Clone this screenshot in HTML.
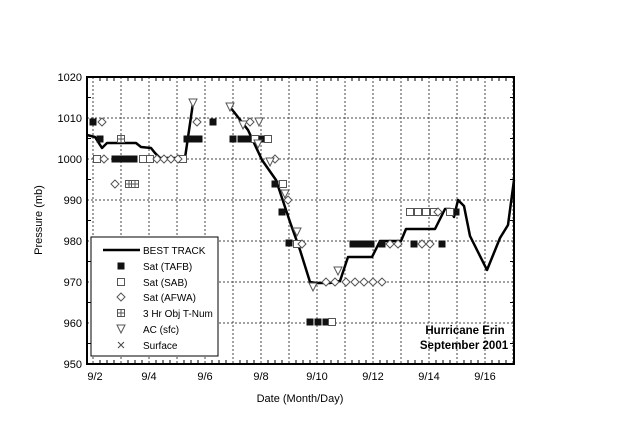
<!DOCTYPE html>
<html><head><meta charset="utf-8"><style>
html,body{margin:0;padding:0;background:#fff;}
svg{display:block;font-family:"Liberation Sans",Arial,sans-serif;}
</style></head><body>
<svg width="640" height="425" viewBox="0 0 640 425" xmlns="http://www.w3.org/2000/svg">
<defs>
<symbol id="sq" viewBox="-4 -4 8 8" overflow="visible"><rect x="-3.5" y="-3.5" width="7" height="7" fill="#111"/></symbol>
<symbol id="os" viewBox="-4 -4 8 8" overflow="visible"><rect x="-3.5" y="-3.5" width="7" height="7" fill="#fff" stroke="#555" stroke-width="1"/></symbol>
<symbol id="ob" viewBox="-4 -4 8 8" overflow="visible"><rect x="-3.5" y="-3.5" width="7" height="7" fill="#fff" stroke="#555" stroke-width="1"/><path d="M0,-3.5V3.5M-3.5,0H3.5" stroke="#555" stroke-width="1"/></symbol>
<symbol id="di" viewBox="-4 -4 8 8" overflow="visible"><path d="M0,-4 L4,0 L0,4 L-4,0Z" fill="#fff" stroke="#555" stroke-width="1"/></symbol>
<symbol id="tr" viewBox="-4 -4 8 8" overflow="visible"><path d="M-4,-4 L4,-4 L0,4Z" fill="#fff" stroke="#555" stroke-width="1"/></symbol>
</defs>
<g stroke="#444" stroke-width="1" stroke-dasharray="2,2">
<line x1="93" y1="77" x2="93" y2="364"/><line x1="121" y1="77" x2="121" y2="364"/><line x1="149" y1="77" x2="149" y2="364"/><line x1="177" y1="77" x2="177" y2="364"/><line x1="205" y1="77" x2="205" y2="364"/><line x1="233" y1="77" x2="233" y2="364"/><line x1="261" y1="77" x2="261" y2="364"/><line x1="289" y1="77" x2="289" y2="364"/><line x1="317" y1="77" x2="317" y2="364"/><line x1="345" y1="77" x2="345" y2="364"/><line x1="373" y1="77" x2="373" y2="364"/><line x1="401" y1="77" x2="401" y2="364"/><line x1="429" y1="77" x2="429" y2="364"/><line x1="457" y1="77" x2="457" y2="364"/><line x1="485" y1="77" x2="485" y2="364"/><line x1="513" y1="77" x2="513" y2="364"/>
<line x1="87" y1="118" x2="514" y2="118"/><line x1="87" y1="159" x2="514" y2="159"/><line x1="87" y1="200" x2="514" y2="200"/><line x1="87" y1="241" x2="514" y2="241"/><line x1="87" y1="282" x2="514" y2="282"/><line x1="87" y1="323" x2="514" y2="323"/>
</g>
<g stroke="#000" stroke-width="1" id="ticks">
<path d="M100,364v-4M107,364v-4M114,364v-4M128,364v-4M135,364v-4M142,364v-4M156,364v-4M163,364v-4M170,364v-4M184,364v-4M191,364v-4M198,364v-4M212,364v-4M219,364v-4M226,364v-4M240,364v-4M247,364v-4M254,364v-4M268,364v-4M275,364v-4M282,364v-4M296,364v-4M303,364v-4M310,364v-4M324,364v-4M331,364v-4M338,364v-4M352,364v-4M359,364v-4M366,364v-4M380,364v-4M387,364v-4M394,364v-4M408,364v-4M415,364v-4M422,364v-4M436,364v-4M443,364v-4M450,364v-4M464,364v-4M471,364v-4M478,364v-4M492,364v-4M499,364v-4M506,364v-4"/>
<path d="M100,77v4M107,77v4M114,77v4M128,77v4M135,77v4M142,77v4M156,77v4M163,77v4M170,77v4M184,77v4M191,77v4M198,77v4M212,77v4M219,77v4M226,77v4M240,77v4M247,77v4M254,77v4M268,77v4M275,77v4M282,77v4M296,77v4M303,77v4M310,77v4M324,77v4M331,77v4M338,77v4M352,77v4M359,77v4M366,77v4M380,77v4M387,77v4M394,77v4M408,77v4M415,77v4M422,77v4M436,77v4M443,77v4M450,77v4M464,77v4M471,77v4M478,77v4M492,77v4M499,77v4M506,77v4"/>
<path d="M87,97.5h4M87,138.5h4M87,179.5h4M87,220.5h4M87,261.5h4M87,302.5h4M87,343.5h4M514,97.5h-4M514,138.5h-4M514,179.5h-4M514,220.5h-4M514,261.5h-4M514,302.5h-4M514,343.5h-4"/>
</g>
<rect x="87" y="77" width="427" height="287" fill="none" stroke="#000" stroke-width="2"/>
<g font-size="11" fill="#000" text-anchor="end">
<text x="82" y="81">1020</text><text x="82" y="122">1010</text><text x="82" y="163">1000</text><text x="82" y="204">990</text><text x="82" y="245">980</text><text x="82" y="286">970</text><text x="82" y="327">960</text><text x="82" y="368">950</text>
</g>
<g font-size="11" fill="#000" text-anchor="middle">
<text x="95" y="380">9/2</text><text x="149" y="380">9/4</text><text x="205" y="380">9/6</text><text x="261" y="380">9/8</text><text x="317" y="380">9/10</text><text x="373" y="380">9/12</text><text x="429" y="380">9/14</text><text x="485" y="380">9/16</text>
<text x="300" y="402">Date (Month/Day)</text>
<text transform="translate(42,220) rotate(-90)">Pressure (mb)</text>
</g>
<g fill="none" stroke="#000" stroke-width="2.5" stroke-linejoin="round">
<polyline points="87,135 95,137 102,148 107,143 136,143 141,147 151,148 155,153 160,158 185,158 193,103"/>
<polyline points="230,107 234,112 248,130 262,160 276,180 290,222 300,250 310,282 316,283 330,283 340,281 348,257 372,257 380,241 401,241 406,229 435,229 445,209 450,209 454,217 458,200 464,206 470,236 487,270 500,238 508,225 514,180"/>
</g>
<g>
<use href="#sq" x="93" y="122" width="8" height="8" transform="translate(-4,-4)"/>
<use href="#sq" x="100" y="139" width="8" height="8" transform="translate(-4,-4)"/>
<use href="#sq" x="115" y="159" width="8" height="8" transform="translate(-4,-4)"/>
<use href="#sq" x="121" y="159" width="8" height="8" transform="translate(-4,-4)"/>
<use href="#sq" x="127" y="159" width="8" height="8" transform="translate(-4,-4)"/>
<use href="#sq" x="134" y="159" width="8" height="8" transform="translate(-4,-4)"/>
<use href="#sq" x="187" y="139" width="8" height="8" transform="translate(-4,-4)"/>
<use href="#sq" x="193" y="139" width="8" height="8" transform="translate(-4,-4)"/>
<use href="#sq" x="199" y="139" width="8" height="8" transform="translate(-4,-4)"/>
<use href="#sq" x="213" y="122" width="8" height="8" transform="translate(-4,-4)"/>
<use href="#sq" x="233" y="139" width="8" height="8" transform="translate(-4,-4)"/>
<use href="#sq" x="241" y="139" width="8" height="8" transform="translate(-4,-4)"/>
<use href="#sq" x="248" y="139" width="8" height="8" transform="translate(-4,-4)"/>
<use href="#sq" x="262" y="139" width="8" height="8" transform="translate(-4,-4)"/>
<use href="#sq" x="275" y="184" width="8" height="8" transform="translate(-4,-4)"/>
<use href="#sq" x="282" y="212" width="8" height="8" transform="translate(-4,-4)"/>
<use href="#sq" x="289" y="243" width="8" height="8" transform="translate(-4,-4)"/>
<use href="#sq" x="310" y="322" width="8" height="8" transform="translate(-4,-4)"/>
<use href="#sq" x="318" y="322" width="8" height="8" transform="translate(-4,-4)"/>
<use href="#sq" x="326" y="322" width="8" height="8" transform="translate(-4,-4)"/>
<use href="#sq" x="353" y="244" width="8" height="8" transform="translate(-4,-4)"/>
<use href="#sq" x="359" y="244" width="8" height="8" transform="translate(-4,-4)"/>
<use href="#sq" x="365" y="244" width="8" height="8" transform="translate(-4,-4)"/>
<use href="#sq" x="371" y="244" width="8" height="8" transform="translate(-4,-4)"/>
<use href="#sq" x="382" y="244" width="8" height="8" transform="translate(-4,-4)"/>
<use href="#sq" x="414" y="244" width="8" height="8" transform="translate(-4,-4)"/>
<use href="#sq" x="442" y="244" width="8" height="8" transform="translate(-4,-4)"/>
<use href="#sq" x="456" y="212" width="8" height="8" transform="translate(-4,-4)"/>
</g>
<g>
<use href="#os" x="97" y="159" width="8" height="8" transform="translate(-4,-4)"/>
<use href="#ob" x="121" y="139" width="8" height="8" transform="translate(-4,-4)"/>
<use href="#ob" x="129" y="184" width="8" height="8" transform="translate(-4,-4)"/>
<use href="#ob" x="135" y="184" width="8" height="8" transform="translate(-4,-4)"/>
<use href="#os" x="143" y="159" width="8" height="8" transform="translate(-4,-4)"/>
<use href="#os" x="150" y="159" width="8" height="8" transform="translate(-4,-4)"/>
<use href="#os" x="183" y="159" width="8" height="8" transform="translate(-4,-4)"/>
<use href="#os" x="255" y="139" width="8" height="8" transform="translate(-4,-4)"/>
<use href="#os" x="268" y="139" width="8" height="8" transform="translate(-4,-4)"/>
<use href="#os" x="283" y="184" width="8" height="8" transform="translate(-4,-4)"/>
<use href="#os" x="297" y="244" width="8" height="8" transform="translate(-4,-4)"/>
<use href="#os" x="332" y="322" width="8" height="8" transform="translate(-4,-4)"/>
<use href="#os" x="410" y="212" width="8" height="8" transform="translate(-4,-4)"/>
<use href="#os" x="418" y="212" width="8" height="8" transform="translate(-4,-4)"/>
<use href="#os" x="426" y="212" width="8" height="8" transform="translate(-4,-4)"/>
<use href="#os" x="434" y="212" width="8" height="8" transform="translate(-4,-4)"/>
<use href="#os" x="450" y="212" width="8" height="8" transform="translate(-4,-4)"/>
</g>
<g>
<use href="#di" x="102" y="122" width="8" height="8" transform="translate(-4,-4)"/>
<use href="#di" x="115" y="184" width="8" height="8" transform="translate(-4,-4)"/>
<use href="#di" x="104" y="159" width="8" height="8" transform="translate(-4,-4)"/>
<use href="#di" x="157" y="159" width="8" height="8" transform="translate(-4,-4)"/>
<use href="#di" x="164" y="159" width="8" height="8" transform="translate(-4,-4)"/>
<use href="#di" x="171" y="159" width="8" height="8" transform="translate(-4,-4)"/>
<use href="#di" x="178" y="159" width="8" height="8" transform="translate(-4,-4)"/>
<use href="#di" x="197" y="122" width="8" height="8" transform="translate(-4,-4)"/>
<use href="#di" x="250" y="122" width="8" height="8" transform="translate(-4,-4)"/>
<use href="#di" x="275" y="159" width="8" height="8" transform="translate(-4,-4)"/>
<use href="#di" x="288" y="200" width="8" height="8" transform="translate(-4,-4)"/>
<use href="#di" x="302" y="244" width="8" height="8" transform="translate(-4,-4)"/>
<use href="#di" x="326" y="282" width="8" height="8" transform="translate(-4,-4)"/>
<use href="#di" x="335" y="282" width="8" height="8" transform="translate(-4,-4)"/>
<use href="#di" x="346" y="282" width="8" height="8" transform="translate(-4,-4)"/>
<use href="#di" x="355" y="282" width="8" height="8" transform="translate(-4,-4)"/>
<use href="#di" x="364" y="282" width="8" height="8" transform="translate(-4,-4)"/>
<use href="#di" x="373" y="282" width="8" height="8" transform="translate(-4,-4)"/>
<use href="#di" x="382" y="282" width="8" height="8" transform="translate(-4,-4)"/>
<use href="#di" x="390" y="244" width="8" height="8" transform="translate(-4,-4)"/>
<use href="#di" x="398" y="244" width="8" height="8" transform="translate(-4,-4)"/>
<use href="#di" x="422" y="244" width="8" height="8" transform="translate(-4,-4)"/>
<use href="#di" x="430" y="244" width="8" height="8" transform="translate(-4,-4)"/>
<use href="#di" x="438" y="212" width="8" height="8" transform="translate(-4,-4)"/>
</g>
<g>
<use href="#tr" x="193" y="103" width="8" height="8" transform="translate(-4,-4)"/>
<use href="#tr" x="230" y="107" width="8" height="8" transform="translate(-4,-4)"/>
<use href="#tr" x="243" y="125" width="8" height="8" transform="translate(-4,-4)"/>
<use href="#tr" x="259" y="122" width="8" height="8" transform="translate(-4,-4)"/>
<use href="#tr" x="258" y="144" width="8" height="8" transform="translate(-4,-4)"/>
<use href="#tr" x="270" y="162" width="8" height="8" transform="translate(-4,-4)"/>
<use href="#tr" x="285" y="194" width="8" height="8" transform="translate(-4,-4)"/>
<use href="#tr" x="297" y="232" width="8" height="8" transform="translate(-4,-4)"/>
<use href="#tr" x="313" y="287" width="8" height="8" transform="translate(-4,-4)"/>
<use href="#tr" x="338" y="271" width="8" height="8" transform="translate(-4,-4)"/>
</g>
<rect x="91" y="237" width="127" height="119" fill="#fff" stroke="#000" stroke-width="1"/>
<line x1="103" y1="250" x2="140" y2="250" stroke="#000" stroke-width="2.5"/>
<use href="#sq" x="121" y="266" width="8" height="8" transform="translate(-4,-4)"/>
<use href="#os" x="121" y="282" width="8" height="8" transform="translate(-4,-4)"/>
<use href="#di" x="121" y="297" width="8" height="8" transform="translate(-4,-4)"/>
<use href="#ob" x="121" y="313" width="8" height="8" transform="translate(-4,-4)"/>
<use href="#tr" x="121" y="329" width="8" height="8" transform="translate(-4,-4)"/>
<path d="M118,342 L124,348 M124,342 L118,348" stroke="#444" stroke-width="1"/>
<g font-size="10" fill="#000">
<text x="143" y="254">BEST TRACK</text>
<text x="143" y="270">Sat (TAFB)</text>
<text x="143" y="286">Sat (SAB)</text>
<text x="143" y="301">Sat (AFWA)</text>
<text x="143" y="317">3 Hr Obj T-Num</text>
<text x="143" y="333">AC (sfc)</text>
<text x="143" y="349">Surface</text>
</g>
<g font-size="11.5" font-weight="bold" fill="#000" text-anchor="middle">
<text x="465" y="334">Hurricane Erin</text>
<text x="464" y="349">September 2001</text>
</g>
</svg>
</body></html>
